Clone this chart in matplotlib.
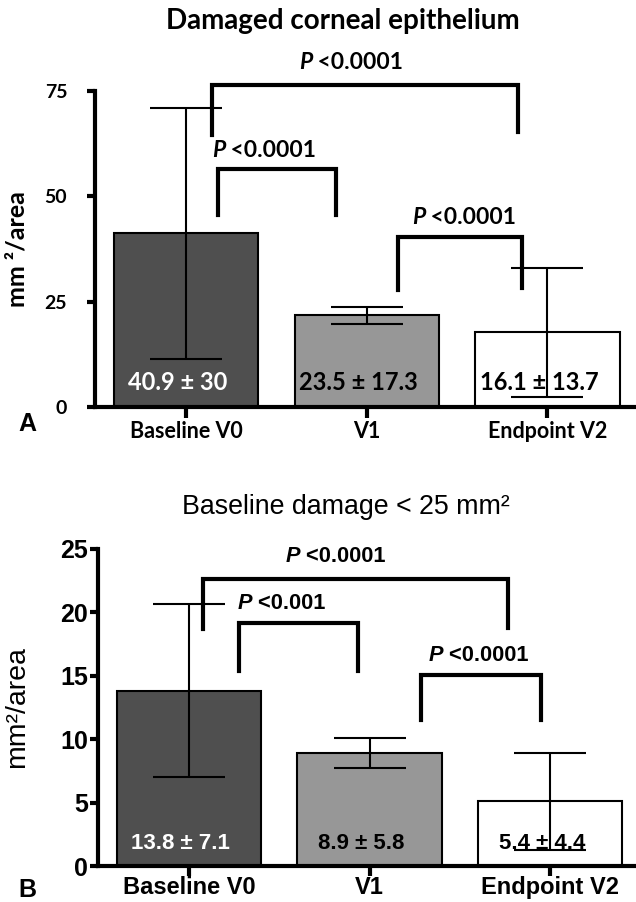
import numpy as np
import matplotlib.pyplot as plt

groups = ['Baseline V0', 'V1', 'Endpoint V2']
bar_colors = ['#4f4f4f', '#979797', '#ffffff']

# panel A: damaged corneal epithelium (mm2/area)
a_mean = [41.3, 21.9, 17.8]
a_low = [11.4, 19.7, 2.4]
a_high = [71.0, 23.8, 33.0]
a_text = ['40.9 ± 30', '23.5 ± 17.3', '16.1 ± 13.7']

# panel B: baseline damage < 25 mm2
b_mean = [13.8, 8.9, 5.1]
b_low = [7.0, 7.7, 1.3]
b_high = [20.7, 10.1, 8.9]
b_text = ['13.8 ± 7.1', '8.9 ± 5.8', '5.4 ± 4.4']

text_colors = ['white', 'black', 'black']

# comparison brackets: x1, x2, y, leg end left, leg end right, label x, label y, label
a_brackets = [(0.144, 1.839, 76.5, 64.6, 65.3, 0.698, 81.7, '<0.0001'),
              (0.177, 0.831, 56.5, 45.6, 45.6, 0.216, 60.8, '<0.0001'),
              (1.175, 1.861, 40.4, 27.8, 28.3, 1.324, 44.9, '<0.0001')]
b_brackets = [(0.078, 1.767, 22.6, 18.7, 18.8, 0.615, 24.4, '<0.0001'),
              (0.277, 0.936, 19.2, 15.4, 15.4, 0.349, 20.7, '<0.001'),
              (1.285, 1.950, 15.1, 11.5, 11.5, 1.407, 16.6, '<0.0001')]

fontA = 'Lato'
fontB = 'Liberation Sans'


def panel(ax, mean, low, high, texts, text_y, brackets, ymax, yticks,
          tickfont, tick_size, xlab_size, psize, val_size, lw):
    x = np.arange(len(groups))
    mean = np.array(mean)
    yerr = [mean - np.array(low), np.array(high) - mean]
    ax.bar(x, mean, width=0.8, color=bar_colors, edgecolor='black',
           linewidth=1.5, zorder=2)
    ax.errorbar(x, mean, yerr=yerr, fmt='none', ecolor='black',
                elinewidth=1.5, capsize=26, capthick=1.5, zorder=3)
    for i, t in enumerate(texts):
        ax.text(x[i] - 0.045, text_y, t, ha='center', va='center',
                color=text_colors[i], fontsize=val_size, fontweight='bold',
                family=tickfont, zorder=4)
    for x1, x2, y, l1, l2, lx, ly, lab in brackets:
        ax.plot([x1, x1, x2, x2], [l1, y, y, l2], color='black', lw=lw,
                clip_on=False, solid_joinstyle='miter', zorder=5)
        ax.text(lx, ly, 'P', ha='right', va='center', fontsize=psize,
                fontweight='bold', fontstyle='italic', family=tickfont)
        ax.text(lx, ly, ' ' + lab, ha='left', va='center', fontsize=psize,
                fontweight='bold', family=tickfont)
    ax.set_ylim(0, ymax)
    ax.set_yticks(yticks)
    ax.set_xticks(x)
    ax.set_xticklabels(groups, fontsize=xlab_size, fontweight='bold',
                       family=tickfont)
    for lbl in ax.get_yticklabels():
        lbl.set_fontsize(tick_size)
        lbl.set_fontweight('bold')
        lbl.set_family(tickfont)
    for s in ['top', 'right']:
        ax.spines[s].set_visible(False)
    for s in ['left', 'bottom']:
        ax.spines[s].set_linewidth(3)


fig = plt.figure(figsize=(6.36, 9.02), dpi=100)

axA = fig.add_axes([95 / 636, 1 - 407 / 902, 1 - 95 / 636, 316 / 902])
panel(axA, a_mean, a_low, a_high, a_text, 5.7, a_brackets, 75, [0, 25, 50, 75],
      fontA, 14, 15.5, 16.5, 17, 3)
axA.set_xlim(-0.505, 2.49)
axA.tick_params(axis='y', length=6, width=3, pad=14)
axA.tick_params(axis='x', length=8, width=3, pad=2)
axA.set_ylabel('mm ²/area', fontsize=18, fontweight='bold', family=fontA)
axA.yaxis.set_label_coords(-0.122, 0.5)

axB = fig.add_axes([98 / 636, 1 - 866 / 902, 1 - 98 / 636, 317 / 902])
panel(axB, b_mean, b_low, b_high, b_text, 1.8, b_brackets, 25,
      [0, 5, 10, 15, 20, 25], fontB, 18, 17, 15.7, 16, 3)
axB.set_xlim(-0.504, 2.476)
axB.tick_params(axis='y', length=6, width=3, pad=1)
axB.tick_params(axis='x', length=7, width=3, pad=0)
axB.set_ylabel('mm²/area', fontsize=20.5, family=fontB)
axB.yaxis.set_label_coords(-0.127, 0.5)

fig.text(343 / 636, 1 - 21 / 902, 'Damaged corneal epithelium', ha='center',
         va='center', fontsize=20, fontweight='bold', family=fontA)
fig.text(346 / 636, 1 - 507 / 902, 'Baseline damage < 25 mm²', ha='center',
         va='center', fontsize=19.3, family=fontB)
fig.text(27 / 636, 1 - 424 / 902, 'A', ha='center', va='center', fontsize=18,
         fontweight='bold', family=fontB)
fig.text(27 / 636, 1 - 890 / 902, 'B', ha='center', va='center', fontsize=18,
         fontweight='bold', family=fontB)

fig.savefig('out.png', dpi=100)
